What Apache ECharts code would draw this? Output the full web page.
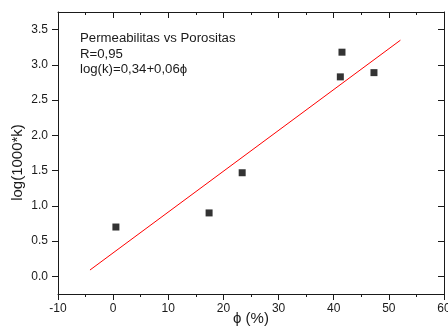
<!DOCTYPE html>
<html>
<head>
<meta charset="utf-8">
<script src="https://cdn.jsdelivr.net/npm/echarts@6/dist/echarts.min.js"></script>
<style>
  html, body { margin: 0; padding: 0; background: #fff; }
  #chart { width: 448px; height: 329px; }
</style>
</head>
<body>
<div id="chart"></div>
<script>
// measured points: porosity (%) vs log(1000*k)
const porosity = [0.5, 17.4, 23.4, 41.2, 41.5, 47.3]
const logPerm = [0.70, 0.90, 1.47, 2.83, 3.18, 2.89]
// fit line end points as drawn
const fitX = [-4.2, 52.1]
const fitY = [0.09, 3.35]
const yTicks = [0, 0.5, 1, 1.5, 2, 2.5, 3, 3.5]
const notes = ['Permeabilitas vs Porositas', 'R=0,95', 'log(k)=0,34+0,06\u03d5']

const FONT = '"Liberation Sans", Arial, sans-serif'
const INK = '#1a1a1a'

const chart = echarts.init(document.getElementById('chart'))

const frameX = (pos, labels) => ({
  type: 'value',
  position: pos,
  min: -10, max: 60, interval: 10,
  axisLine: { onZero: false, lineStyle: { color: INK, width: 1 } },
  axisTick: { show: true, inside: pos === 'top', length: 6, lineStyle: { color: INK } },
  minorTick: { show: true, splitNumber: 2, length: 3, lineStyle: { color: INK } },
  axisLabel: { show: labels, color: INK, fontSize: 12, fontFamily: FONT, margin: 9 },
  splitLine: { show: false },
})

const frameY = (pos, labels) => ({
  type: 'value',
  position: pos,
  min: -0.25, max: 3.75,
  axisLine: { onZero: false, lineStyle: { color: INK, width: 1 } },
  axisTick: { show: true, inside: pos === 'right', length: 6, customValues: yTicks, lineStyle: { color: INK } },
  minorTick: { show: true, splitNumber: 2, length: 3, lineStyle: { color: INK } },
  axisLabel: {
    show: labels, color: INK, fontSize: 12, fontFamily: FONT, margin: 10,
    formatter: v => v.toFixed(1),
    customValues: yTicks,
  },
  splitLine: { show: false },
})

chart.setOption({
  animation: false,
  backgroundColor: '#fff',
  grid: { left: 58, right: 4, top: 12, bottom: 35, outerBoundsMode: 'none' },
  xAxis: [
    Object.assign(frameX('bottom', true), {
      name: '\u03d5 (%)', nameLocation: 'middle', nameGap: 17, nameMoveOverlap: false,
      nameTextStyle: { color: INK, fontSize: 15, fontFamily: FONT },
    }),
    frameX('top', false),
  ],
  yAxis: [
    Object.assign(frameY('left', true), {
      name: 'log(1000*k)', nameLocation: 'middle', nameGap: 33, nameMoveOverlap: false,
      nameTextStyle: { color: INK, fontSize: 15, fontFamily: FONT, padding: [0, 19, 0, 0] },
    }),
    frameY('right', false),
  ],
  series: [
    {
      type: 'line',
      data: fitX.map((x, i) => [x, fitY[i]]),
      showSymbol: false,
      lineStyle: { color: '#ff0000', width: 1 },
      silent: true,
    },
    {
      type: 'scatter',
      data: porosity.map((x, i) => [x, logPerm[i]]),
      symbol: 'rect',
      symbolSize: 7,
      itemStyle: { color: '#000' },
      silent: true,
    },
  ],
  graphic: notes.map((t, i) => ({
    type: 'text',
    x: 80,
    y: 33 + i * 15.5,
    scaleX: 1.1,
    style: { text: t, fill: INK, font: `12px ${FONT}` },
  })),
})
</script>
</body>
</html>
